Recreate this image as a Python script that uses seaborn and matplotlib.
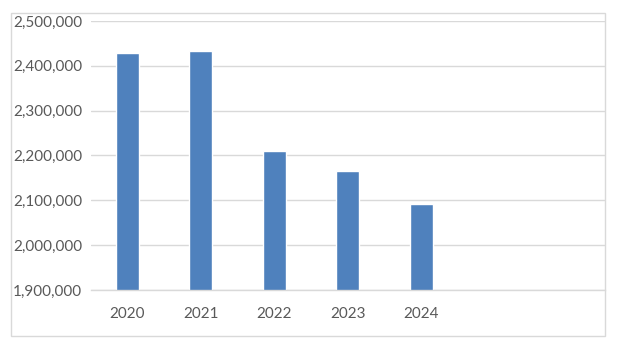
import matplotlib
matplotlib.use("Agg")
import matplotlib.pyplot as plt
import seaborn as sns
import pandas as pd
from matplotlib.ticker import FuncFormatter
from matplotlib.patches import Rectangle

years = ["2020", "2021", "2022", "2023", "2024", "2025", "2026"]
values = [2429000, 2433000, 2210000, 2165000, 2092000, None, None]
tick_labels = ["2020", "2021", "2022", "2023", "2024", "", ""]

sns.set_theme(style="white")
plt.rcParams["font.family"] = ["Lato", "DejaVu Sans"]

df = pd.DataFrame({"year": years, "value": values})

W, H = 617, 347
fig = plt.figure(figsize=(W / 100, H / 100), dpi=100)
fig.patch.set_facecolor("white")
fig.patches.append(Rectangle((11 / W, 1 - 336 / H), (605 - 11) / W, (336 - 12.7) / H,
                             transform=fig.transFigure, fill=False,
                             edgecolor="#D9D9D9", linewidth=1))

ax = fig.add_axes([90.7 / W, 1 - 290 / H, (605 - 90.7) / W, (290 - 21) / H])
sns.barplot(data=df, x="year", y="value", order=years, color="#4F81BD",
            saturation=1, width=0.314, ax=ax)
ax.set_xlim(-0.5, 6.5)
ax.set_ylim(1900000, 2500000)
ax.set_yticks(range(1900000, 2500001, 100000))
ax.yaxis.set_major_formatter(FuncFormatter(lambda v, p: f"{int(v):,}"))
ax.set_xticks(range(len(years)))
ax.set_xticklabels(tick_labels)
ax.grid(axis="y", color="#D9D9D9", linewidth=1)
ax.set_axisbelow(True)
for s in ["left", "right", "top"]:
    ax.spines[s].set_visible(False)
ax.spines["bottom"].set_color("#D9D9D9")
ax.spines["bottom"].set_linewidth(1)
ax.set_xlabel("")
ax.set_ylabel("")
ax.tick_params(axis="both", length=0, labelsize=11, labelcolor="#595959")
ax.tick_params(axis="y", pad=6)
ax.tick_params(axis="x", pad=12)
fig.savefig("out.png", dpi=100, facecolor="white")
